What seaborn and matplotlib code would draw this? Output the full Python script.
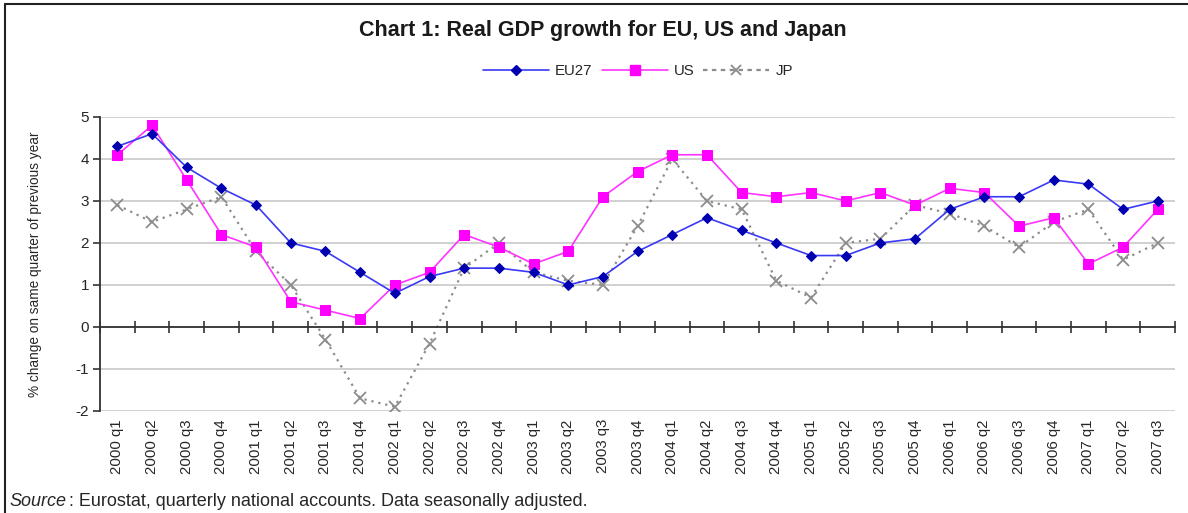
import pandas as pd
import numpy as np
import matplotlib.pyplot as plt
import seaborn as sns
from matplotlib.lines import Line2D

# quarters 2000 q1 .. 2007 q3
quarters = [f'{y} q{q}' for y in range(2000, 2008) for q in range(1, 5)][:31]

eu27 = [4.3, 4.6, 3.8, 3.3, 2.9, 2.0, 1.8, 1.3, 0.8, 1.2, 1.4, 1.4, 1.3, 1.0, 1.2, 1.8,
        2.2, 2.6, 2.3, 2.0, 1.7, 1.7, 2.0, 2.1, 2.8, 3.1, 3.1, 3.5, 3.4, 2.8, 3.0]
us = [4.1, 4.8, 3.5, 2.2, 1.9, 0.6, 0.4, 0.2, 1.0, 1.3, 2.2, 1.9, 1.5, 1.8, 3.1, 3.7,
      4.1, 4.1, 3.2, 3.1, 3.2, 3.0, 3.2, 2.9, 3.3, 3.2, 2.4, 2.6, 1.5, 1.9, 2.8]
jp = [2.9, 2.5, 2.8, 3.1, 1.8, 1.0, -0.3, -1.7, -1.9, -0.4, 1.4, 2.0, 1.3, 1.1, 1.0, 2.4,
      4.0, 3.0, 2.8, 1.1, 0.7, 2.0, 2.1, 2.9, 2.7, 2.4, 1.9, 2.5, 2.8, 1.6, 2.0]

df = pd.DataFrame({'pos': np.arange(len(quarters)), 'quarter': quarters,
                   'EU27': eu27, 'US': us, 'JP': jp})

sns.set_style('white')
plt.rcParams['font.family'] = ['Liberation Sans', 'DejaVu Sans']
plt.rcParams['axes.unicode_minus'] = False

fig = plt.figure(figsize=(11.88, 5.13), dpi=100)
ax = fig.add_axes([0.0842, 0.199, 0.905, 0.573])

# grid
for v in range(-2, 6):
    ax.axhline(v, color='#c8c8c8', lw=1.2, zorder=0)

# series
sns.lineplot(data=df, x='pos', y='JP', ax=ax, color='#8c8c8c', lw=1.6, linestyle=(0, (1, 2.2)),
             marker='x', markersize=8, markeredgewidth=1.3, markeredgecolor='#8c8c8c',
             label='JP', zorder=2)
sns.lineplot(data=df, x='pos', y='US', ax=ax, color='#ff33ff', lw=1.2, marker='s',
             markersize=7, markerfacecolor='#ff00ff', markeredgecolor='#ff00ff', label='US', zorder=3)
sns.lineplot(data=df, x='pos', y='EU27', ax=ax, color='#3a3af5', lw=1.2, marker='D',
             markersize=5.5, markerfacecolor='#0000b0', markeredgecolor='#0000b0', label='EU27', zorder=4)

ax.set_xlim(-0.5, len(quarters) - 0.5)
ax.set_ylim(-2, 5)
ax.set_yticks(range(-2, 6))
ax.tick_params(axis='y', labelsize=11, length=5, width=1.2, color='#333333', pad=3, left=True)
ax.set_ylabel('% change on same quarter of previous year', fontsize=9.8, labelpad=24)
ax.set_xlabel('')

# x axis line at zero with ticks between categories
ax.spines[['top', 'right']].set_visible(False)
ax.spines['left'].set_color('#333333')
ax.spines['left'].set_linewidth(1.3)
ax.spines['bottom'].set_position(('data', 0))
ax.spines['bottom'].set_color('#333333')
ax.spines['bottom'].set_linewidth(1.3)
ax.set_xticks(np.arange(len(quarters) + 1) - 0.5)
ax.tick_params(axis='x', bottom=True, labelbottom=False, direction='inout', length=8,
               width=1.2, color='#333333')

# category labels at the bottom
sec = ax.secondary_xaxis('bottom')
sec.set_xticks(df['pos'], df['quarter'])
sec.tick_params(length=0, labelsize=10.8, labelrotation=90, pad=6)
sec.spines['bottom'].set_visible(False)

ax.get_legend().remove()
handles = [
    Line2D([], [], color='#3a3af5', lw=1.2, marker='D', markersize=5.5,
           markerfacecolor='#0000b0', markeredgecolor='#0000b0'),
    Line2D([], [], color='#ff33ff', lw=1.2, marker='s', markersize=7,
           markerfacecolor='#ff00ff', markeredgecolor='#ff00ff'),
    Line2D([], [], color='#8c8c8c', lw=1.6, linestyle=(0, (2, 2)), marker='x',
           markersize=7, markeredgewidth=1.3, markeredgecolor='#8c8c8c'),
]
fig.legend(handles, ['EU27', 'US', 'JP'], loc='center', bbox_to_anchor=(0.537, 0.862),
           ncol=3, frameon=False, fontsize=10.8, handlelength=4.4, columnspacing=0.6,
           handletextpad=0.4)

fig.text(0.507, 0.94, 'Chart 1: Real GDP growth for EU, US and Japan', ha='center', va='center',
         fontsize=15.5, weight='bold', color='#1a1a1a')

fig.text(0.008, 0.022, 'Source', style='italic', fontsize=13, ha='left', va='center')
fig.text(0.0585, 0.022, ': Eurostat, quarterly national accounts. Data seasonally adjusted.',
         fontsize=13, ha='left', va='center')

# frame lines (top and left)
fig.add_artist(Line2D([0.004, 1.0], [0.992, 0.992], transform=fig.transFigure, color='#222222', lw=1.5))
fig.add_artist(Line2D([0.004, 0.004], [0.0, 0.992], transform=fig.transFigure, color='#222222', lw=1.5))

fig.savefig('out.png', dpi=100)
